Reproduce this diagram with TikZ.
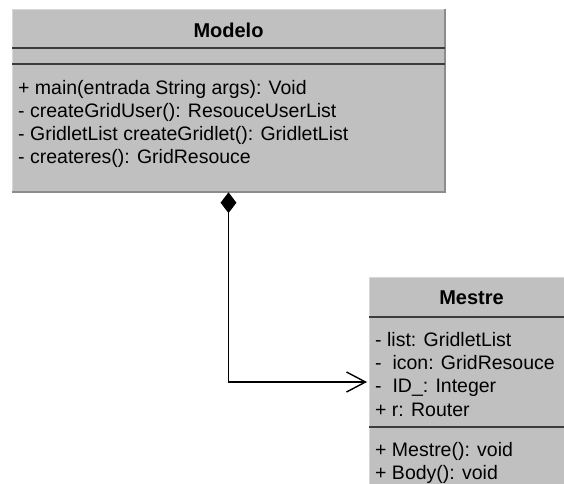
\documentclass[tikz,border=0pt]{standalone}
\usepackage{fontspec}
\setmainfont{Liberation Sans}
\usetikzlibrary{shapes.geometric,arrows.meta}
\definecolor{classfill}{RGB}{192,192,192}
\definecolor{ruleline}{RGB}{60,60,60}
\definecolor{darkedge}{RGB}{140,140,140}
\definecolor{lightedge}{RGB}{215,215,215}
\begin{document}
\begin{tikzpicture}[x=1pt,y=-1pt,
  classbox/.style={fill=classfill, draw=none, anchor=north west, inner sep=0pt, outer sep=0pt},
  member/.style={anchor=base west, inner sep=0pt, font=\fontsize{19.5}{23}\selectfont},
  classname/.style={anchor=base, inner sep=0pt, font=\fontsize{20}{24}\selectfont\bfseries},
  divider/.style={draw=ruleline, line width=1.8pt},
  link/.style={draw=black, line width=1.4pt}]
\useasboundingbox (0,0) rectangle (564,483);

% class Modelo
\node[classbox, minimum width=433pt, minimum height=183pt] (modelo) at (12,9) {};
\draw[lightedge, line width=1pt] (modelo.south west) |- (modelo.north east);
\draw[darkedge, line width=1.6pt] (modelo.north east) |- (modelo.south west);
\node[classname] (modeloname) at (228.5,37) {Modelo};
\draw[divider] (modelo.west |- 0,48) -- (modelo.east |- 0,48);
\draw[divider] (modelo.west |- 0,64) -- (modelo.east |- 0,64);
\node[member] (m1) at (18,94)  {+ main(entrada String args): Void};
\node[member] (m2) at (18,117) {- createGridUser(): ResouceUserList};
\node[member] (m3) at (18,140) {- GridletList createGridlet(): GridletList};
\node[member] (m4) at (18,163) {- createres(): GridResouce};

% class Mestre
\node[classbox, minimum width=220pt, minimum height=230pt] (mestre) at (369,277) {};
\draw[lightedge, line width=1pt] (mestre.south west) |- (mestre.north east);
\node[classname] (mestrename) at (471.5,304) {Mestre};
\draw[divider] (mestre.west |- 0,317) -- (mestre.east |- 0,317);
\draw[divider] (mestre.west |- 0,427) -- (mestre.east |- 0,427);
\node[member] (a1) at (375,346) {- list: GridletList};
\node[member] (a2) at (375,369) {-\ \ icon: GridResouce};
\node[member] (a3) at (375,392) {-\ \ ID\_: Integer};
\node[member] (a4) at (375,416) {+ r: Router};
\node[member] (o1) at (375,456) {+ Mestre(): void};
\node[member] (o2) at (375,479) {+ Body(): void};

% composition Modelo -> Mestre
\node[diamond, fill=black, draw=none, minimum width=16pt, minimum height=21pt,
      inner sep=0pt, anchor=north] (comp) at (modelo.south) {};
\coordinate (head) at (mestre.west |- 0,382);
\draw[link, shorten >=2pt, -{Straight Barb[length=19pt,width=20pt,line width=1.4pt]}]
  (comp.south) |- (head);
\end{tikzpicture}
\end{document}
